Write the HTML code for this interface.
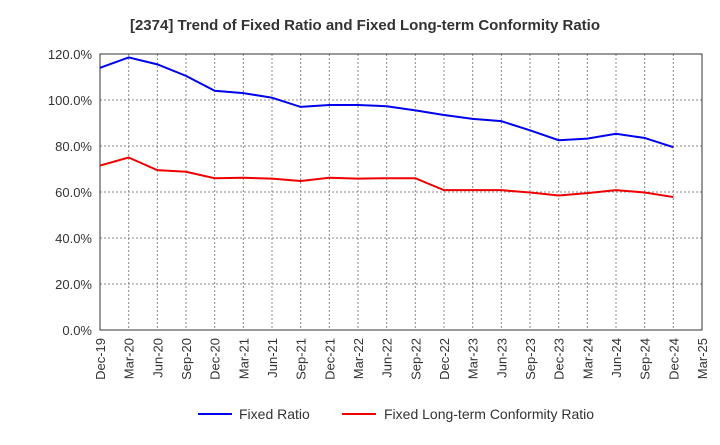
<!DOCTYPE html>
<html><head><meta charset="utf-8"><style>
body{margin:0;background:#fff;font-family:"Liberation Sans",sans-serif;}
</style></head><body>
<svg id="c" width="720" height="440" xmlns="http://www.w3.org/2000/svg">
<text x="365" y="30" text-anchor="middle" font-size="15" font-weight="bold" fill="#333">[2374]  Trend of Fixed Ratio and Fixed Long-term Conformity Ratio</text>
<g id="grid"></g><g id="axes"></g><g id="series"></g>
<g>
<line x1="198" y1="414" x2="232" y2="414" stroke="#0000ee" stroke-width="2"/>
<text x="239" y="419" font-size="14" fill="#333">Fixed Ratio</text>
<line x1="342" y1="414" x2="376" y2="414" stroke="#ee0000" stroke-width="2"/>
<text x="384" y="419" font-size="14" fill="#333">Fixed Long-term Conformity Ratio</text>
</g>
</svg>
<script>
const categories=["Dec-19","Mar-20","Jun-20","Sep-20","Dec-20","Mar-21","Jun-21","Sep-21","Dec-21","Mar-22","Jun-22","Sep-22","Dec-22","Mar-23","Jun-23","Sep-23","Dec-23","Mar-24","Jun-24","Sep-24","Dec-24","Mar-25"];
const fixedRatio=[114,118.5,115.5,110.5,104,103,101,97,97.8,97.8,97.3,95.5,93.5,91.8,90.8,86.8,82.5,83.2,85.3,83.5,79.5];
const conformityRatio=[71.5,75,69.5,68.8,66,66.2,65.8,64.8,66.2,65.8,66,66,60.8,60.8,60.8,59.8,58.5,59.5,60.8,59.8,57.8];
const yTicks=[0,20,40,60,80,100,120];
const NS="http://www.w3.org/2000/svg";
const L=100,R=702,T=54,B=330;
const x=i=>L+i*(R-L)/(categories.length-1);
const y=v=>B-v/120*(B-T);
function mk(t,a,p){const e=document.createElementNS(NS,t);for(const k in a)e.setAttribute(k,a[k]);p.appendChild(e);return e;}
const g=document.getElementById('grid'),ax=document.getElementById('axes'),s=document.getElementById('series');
yTicks.forEach(v=>{
 const l=mk('line',{x1:L,x2:R,y1:y(v),y2:y(v),stroke:'#888','stroke-dasharray':'2,2','stroke-width':1},g);
 
 
 const t=mk('text',{x:L-8,y:y(v)+5,'text-anchor':'end','font-size':13,fill:'#333'},ax);
 t.textContent=v.toFixed(1)+'%';
 
 
});
categories.forEach((c,i)=>{
 if(i>0&&i<categories.length-1){const l=mk('line',{x1:x(i),x2:x(i),y1:T,y2:B,stroke:'#888','stroke-dasharray':'2,2'},g);
 
 }
 const t=mk('text',{transform:`translate(${x(i)+5},${B+8}) rotate(-90)`,'text-anchor':'end','font-size':13,fill:'#333'},ax);
 t.textContent=c;
 
 
});
const fr=mk('rect',{x:L,y:T,width:R-L,height:B-T,fill:'none',stroke:'#333'},ax);


function line(d,col,name){const p=mk('polyline',{points:d.map((v,i)=>x(i)+','+y(v)).join(' '),fill:'none',stroke:col,'stroke-width':2},s);
 
 }
line(fixedRatio,'#0000ee','fixed-ratio-line');
line(conformityRatio,'#ee0000','conformity-ratio-line');
</script>
</body></html>
